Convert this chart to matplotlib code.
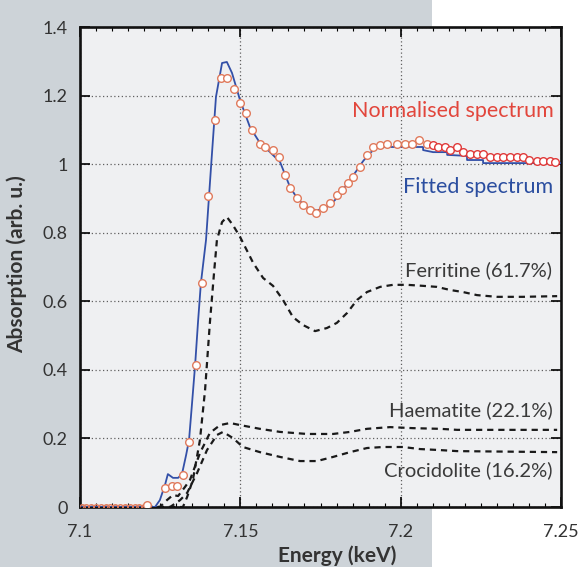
import numpy as np
import matplotlib.pyplot as plt
from matplotlib.patches import Rectangle
from matplotlib.ticker import MultipleLocator

plt.rcParams['font.family'] = ['Lato', 'DejaVu Sans']

# fitted spectrum (blue line)
fit_e = [7.1, 7.1234, 7.1249, 7.1265, 7.1274, 7.1290, 7.1306, 7.1318, 7.1331, 7.1340,
         7.1349, 7.1359, 7.1368, 7.1377, 7.1393, 7.1409, 7.1424, 7.1443, 7.1458, 7.1474,
         7.1499, 7.1530, 7.1561, 7.1583, 7.1624, 7.1655, 7.1677, 7.1695, 7.1717, 7.1739,
         7.1761, 7.1780, 7.1801, 7.1820, 7.1842, 7.1864, 7.1883, 7.1904, 7.1923, 7.1936,
         7.2070, 7.2070, 7.2101, 7.2145, 7.2145, 7.2207, 7.2207, 7.2257, 7.2257, 7.25]
fit_a = [0, 0, 0.020, 0.064, 0.096, 0.085, 0.085, 0.096, 0.152, 0.195,
         0.298, 0.414, 0.539, 0.653, 0.779, 0.997, 1.196, 1.295, 1.298, 1.266,
         1.187, 1.108, 1.062, 1.044, 1.006, 0.933, 0.901, 0.884, 0.869, 0.866,
         0.869, 0.881, 0.901, 0.925, 0.954, 0.983, 1.009, 1.032, 1.047, 1.050,
         1.050, 1.041, 1.035, 1.035, 1.027, 1.024, 1.012, 1.012, 1.003, 1.003]

# normalised spectrum (circles)
norm_e = [7.1005, 7.102, 7.1035, 7.105, 7.1065, 7.108, 7.1095, 7.111, 7.1125, 7.114,
          7.1155, 7.117, 7.1185, 7.12, 7.1209, 7.1265, 7.1287, 7.1302, 7.1321, 7.1340,
          7.1362, 7.1380, 7.1399, 7.1421, 7.1440, 7.1458, 7.1480, 7.1499, 7.1518, 7.1536,
          7.1561, 7.1577, 7.1602, 7.1621, 7.1639, 7.1655, 7.1677, 7.1695, 7.1717, 7.1736,
          7.1758, 7.1780, 7.1801, 7.1817, 7.1836, 7.1851, 7.1873, 7.1895, 7.1914, 7.1936,
          7.1957, 7.1989, 7.2014, 7.2035, 7.2057, 7.2082, 7.2101, 7.2116, 7.2138, 7.2154,
          7.2176, 7.2194, 7.2216, 7.2238, 7.2257, 7.2279, 7.2300, 7.2319, 7.2341, 7.2363,
          7.2381, 7.2400, 7.2425, 7.2444, 7.2466, 7.2481]
norm_a = [0, 0, 0, 0, 0, 0, 0, 0, 0, 0,
          0, 0, 0, 0, 0.006, 0.055, 0.061, 0.061, 0.093, 0.190,
          0.414, 0.653, 0.907, 1.129, 1.251, 1.251, 1.219, 1.178, 1.149, 1.100,
          1.059, 1.050, 1.041, 1.021, 0.968, 0.930, 0.901, 0.881, 0.866, 0.858,
          0.872, 0.887, 0.910, 0.925, 0.945, 0.963, 0.992, 1.027, 1.050, 1.056,
          1.059, 1.059, 1.059, 1.059, 1.070, 1.059, 1.056, 1.050, 1.050, 1.041,
          1.050, 1.035, 1.030, 1.030, 1.030, 1.021, 1.021, 1.021, 1.021, 1.021,
          1.021, 1.012, 1.009, 1.009, 1.009, 1.006]

# reference components (dashed)
ferr_e = [7.1, 7.1321, 7.1334, 7.1352, 7.1374, 7.1390, 7.1405, 7.1418, 7.1427, 7.1443,
          7.1458, 7.1477, 7.1499, 7.1540, 7.1571, 7.1602, 7.1633, 7.1664, 7.1695, 7.1733,
          7.1770, 7.1801, 7.1833, 7.1864, 7.1895, 7.1936, 7.1976, 7.2020, 7.2070, 7.2113,
          7.2154, 7.2194, 7.2238, 7.2300, 7.2381, 7.2488]
ferr_a = [0, 0, 0.029, 0.079, 0.195, 0.341, 0.537, 0.683, 0.779, 0.831,
          0.846, 0.822, 0.788, 0.712, 0.668, 0.645, 0.604, 0.554, 0.531, 0.513,
          0.522, 0.537, 0.566, 0.604, 0.627, 0.642, 0.648, 0.648, 0.645, 0.642,
          0.633, 0.627, 0.618, 0.613, 0.613, 0.615]

haem_e = [7.1, 7.1249, 7.1271, 7.1290, 7.1306, 7.1327, 7.1343, 7.1374, 7.1405, 7.1437,
          7.1468, 7.1499, 7.1561, 7.1624, 7.1708, 7.1789, 7.1842, 7.1895, 7.1967, 7.2038,
          7.2123, 7.2176, 7.2488]
haem_a = [0, 0, 0.020, 0.035, 0.032, 0.058, 0.079, 0.157, 0.216, 0.239,
          0.245, 0.239, 0.228, 0.219, 0.213, 0.213, 0.219, 0.228, 0.233, 0.230,
          0.228, 0.225, 0.225]

croc_e = [7.1, 7.1281, 7.1312, 7.1334, 7.1365, 7.1396, 7.1427, 7.1446, 7.1477, 7.1508,
          7.1561, 7.1624, 7.1686, 7.1739, 7.1789, 7.1842, 7.1895, 7.1945, 7.2007, 7.2060,
          7.2123, 7.2176, 7.2488]
croc_a = [0, 0, 0.020, 0.041, 0.099, 0.166, 0.210, 0.219, 0.201, 0.175,
          0.160, 0.146, 0.134, 0.134, 0.146, 0.160, 0.172, 0.175, 0.175, 0.169,
          0.166, 0.163, 0.160]

fig = plt.figure(figsize=(5.79, 5.67), dpi=100, facecolor='white')
# grey panel behind the left part of the figure
fig.add_artist(Rectangle((0, 0), 432 / 579, 1, transform=fig.transFigure,
                         facecolor='#cdd3d8', edgecolor='none', zorder=-5))
ax = fig.add_axes([80 / 579, 60 / 567, 481 / 579, 480 / 567])
ax.set_facecolor('#eff0f2')

dash = (0, (2.8, 2.2))
ax.plot(ferr_e, ferr_a, color='#1a1a1a', lw=1.6, linestyle=dash)
ax.plot(haem_e, haem_a, color='#1a1a1a', lw=1.6, linestyle=dash)
ax.plot(croc_e, croc_a, color='#1a1a1a', lw=1.6, linestyle=dash)
ax.plot(fit_e, fit_a, color='#3350a8', lw=1.3, zorder=3)

ne = np.array(norm_e)
na = np.array(norm_a)
left = ne < 7.21
base = na <= 0
ax.plot(ne[base], na[base], 'o', ms=4, mfc='none', mec='#e07a5c', mew=1.0, zorder=4)
ax.plot(ne[left & ~base], na[left & ~base], 'o', ms=5.5, mfc='white', mec='#e07a5c',
        mew=1.0, zorder=4)
ax.plot(ne[~left], na[~left], 'o', ms=5.5, mfc='white', mec='#e03a3a', mew=1.0, zorder=4)

ax.set_xlim(7.1, 7.25)
ax.set_ylim(0, 1.4)
ax.xaxis.set_minor_locator(MultipleLocator(0.005))
ax.set_xticks([7.1, 7.15, 7.2, 7.25])
ax.set_xticklabels(['7.1', '7.15', '7.2', '7.25'])
ax.set_yticks([0, 0.2, 0.4, 0.6, 0.8, 1, 1.2, 1.4])
ax.set_yticklabels(['0', '0.2', '0.4', '0.6', '0.8', '1', '1.2', '1.4'])
ax.tick_params(which='major', direction='in', length=7, width=1.2, top=True, right=True,
               labelsize=13, labelcolor='#333333', pad=9)
ax.tick_params(which='minor', direction='in', length=3, width=0.8, top=True, bottom=True)
ax.tick_params(axis='x', which='major', pad=12)

ax.grid(True, which='major', linestyle=(0, (1, 2)), color='#606060', lw=0.9)

for s in ax.spines.values():
    s.set_linewidth(1.9)
    s.set_color('#111111')

ax.set_xlabel('Energy (keV)', fontsize=15, fontweight='bold', color='#333333')
ax.xaxis.set_label_coords((337 - 80) / 481, -0.08)
ax.set_ylabel('Absorption (arb. u.)', fontsize=15, fontweight='bold', color='#333333')
ax.yaxis.set_label_coords(-0.11, 0.505)

ax.text(7.2476, 1.155, 'Normalised spectrum', color='#e2463c', fontsize=15.5, ha='right', va='center')
ax.text(7.2476, 0.933, 'Fitted spectrum', color='#2b4ea0', fontsize=15.5, ha='right', va='center')
ax.text(7.2473, 0.691, 'Ferritine (61.7%)', color='#3a3a3a', fontsize=14.5, ha='right', va='center')
ax.text(7.2473, 0.283, 'Haematite (22.1%)', color='#3a3a3a', fontsize=14.5, ha='right', va='center')
ax.text(7.2473, 0.108, 'Crocidolite (16.2%)', color='#3a3a3a', fontsize=14.5, ha='right', va='center')

fig.savefig('out.png', dpi=100)
